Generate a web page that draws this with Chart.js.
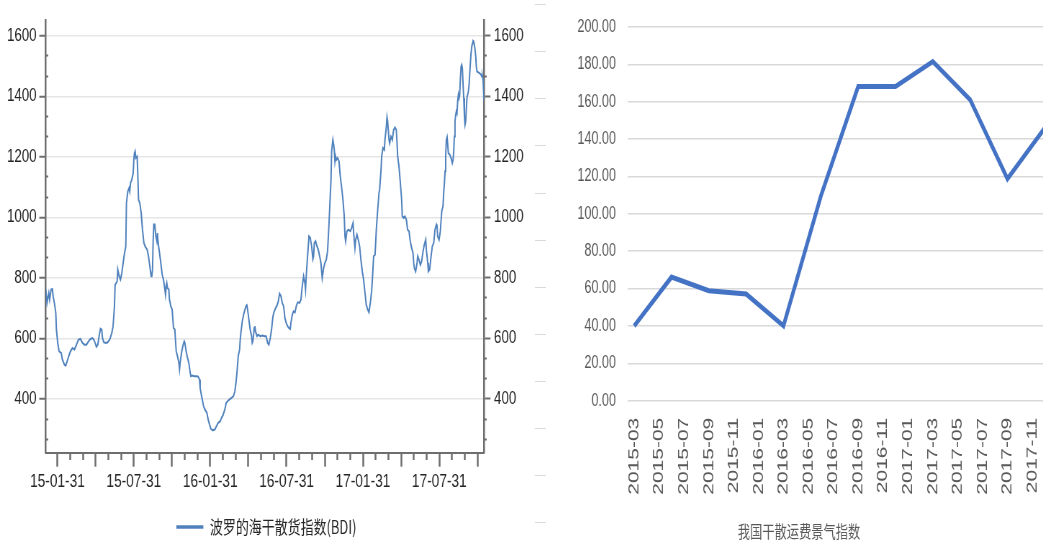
<!DOCTYPE html>
<html>
<head>
<meta charset="utf-8">
<title>BDI 与干散运费景气指数</title>
<script src="https://cdn.jsdelivr.net/npm/chart.js@4.4.1/dist/chart.umd.min.js"></script>
<style>
  html, body { margin: 0; padding: 0; background: #fff; width: 1043px; height: 543px; overflow: hidden; }
  #wrap { position: relative; width: 1043px; height: 543px; overflow: hidden; }
  .panel { position: absolute; top: 0; transform-origin: 0 0; }
  /* both charts are drawn wide and squeezed horizontally to 72% */
  .squeeze { transform: scaleX(0.72); }
  #bdiBox { left: 0; }
  #ruleBox { left: 535px; }
  #freightBox { left: 547px; }
</style>
</head>
<body>
<div id="wrap">
  <div class="panel squeeze" id="bdiBox"><canvas id="bdi" width="740" height="543"></canvas></div>
  <div class="panel" id="ruleBox"><canvas id="rule" width="11" height="543"></canvas></div>
  <div class="panel squeeze" id="freightBox"><canvas id="freight" width="700" height="543"></canvas></div>
</div>
<script>
// ---- Baltic Dry Index, daily close (x = months after 2015-01-31) ----
const bdiMonth = [
  -0.92,-0.82,-0.68,-0.61,-0.50,-0.40,-0.34,-0.24,-0.13,-0.08,0.02,0.13,0.29,0.39,0.55,0.65,0.76,0.89,1.02,1.18,
  1.33,1.49,1.65,1.81,1.96,2.12,2.28,2.44,2.59,2.75,2.85,2.96,3.06,3.17,3.27,3.38,3.48,3.54,3.64,3.80,
  3.95,4.11,4.27,4.37,4.48,4.53,4.69,4.74,4.85,4.95,5.06,5.16,5.27,5.37,5.42,5.53,5.63,5.68,5.74,5.84,
  5.95,6.00,6.05,6.10,6.16,6.26,6.31,6.37,6.47,6.58,6.68,6.79,6.89,7.05,7.15,7.26,7.36,7.41,7.47,7.52,7.57,
  7.65,7.73,7.81,7.86,7.91,8.02,8.12,8.23,8.33,8.44,8.49,8.54,8.59,8.65,8.75,8.80,8.91,9.01,9.07,9.12,
  9.22,9.27,9.33,9.43,9.54,9.59,9.64,9.75,9.85,9.96,10.01,10.11,10.22,10.32,10.43,10.48,10.58,10.74,10.90,11.06,
  11.16,11.21,11.32,11.48,11.58,11.74,11.84,11.95,12.05,12.21,12.37,12.52,12.63,12.79,12.89,13.00,13.15,13.26,13.36,13.52,
  13.68,13.83,13.94,14.04,14.10,14.20,14.31,14.36,14.41,14.52,14.62,14.73,14.83,14.88,14.94,15.04,15.14,15.25,15.30,15.35,
  15.41,15.46,15.51,15.56,15.67,15.77,15.93,16.09,16.30,
  16.40,16.51,16.61,16.72,16.82,16.93,17.03,17.14,17.24,17.35,17.45,17.56,17.66,17.77,17.87,17.97,18.08,18.18,18.29,18.34,
  18.45,18.55,18.66,18.76,18.87,19.02,19.13,19.23,19.34,19.44,19.49,19.55,19.65,19.76,19.86,19.97,20.07,20.12,20.18,20.28,
  20.39,20.49,20.60,20.70,20.80,20.91,21.01,21.12,21.22,21.33,21.43,21.49,21.54,21.64,21.70,21.75,21.80,21.85,21.91,22.01,
  22.12,22.22,22.33,22.43,22.53,22.59,22.64,22.74,22.85,23.01,23.11,23.22,23.27,23.37,23.43,23.53,23.63,23.74,23.84,23.95,
  24.05,24.16,24.26,24.37,24.47,24.58,24.68,24.74,24.84,24.95,
  25.00,25.05,25.16,25.26,25.31,25.42,25.47,25.57,25.68,25.73,25.84,25.89,25.94,25.99,26.05,26.10,26.20,26.31,26.41,26.52,
  26.62,26.68,26.73,26.83,26.94,27.04,27.09,27.20,27.30,27.41,27.51,27.62,27.72,27.83,27.93,27.99,28.04,28.14,28.25,28.30,
  28.40,28.51,28.61,28.72,28.82,28.93,28.98,29.09,29.14,29.24,29.35,29.45,29.56,29.66,29.77,29.82,29.87,29.98,30.08,30.19,
  30.29,30.34,30.40,30.45,30.50,30.55,30.61,30.66,30.71,30.82,30.92,31.02,31.08,31.13,31.18,31.23,31.29,31.34,31.39,31.44,
  31.50,31.55,31.60,31.65,31.71,31.76,31.81,31.86,31.92,31.97,32.02,32.07,32.13,32.18,32.23,32.28,32.34,32.39,32.44,32.49,
  32.55,32.60,32.65,32.70,32.75,32.81,32.86,32.91,32.96,33.07,33.17,33.28,33.33,33.38,33.44,33.51
];
const bdiLevel = [
  761,717,750,728,761,763,739,717,684,629,585,557,552,530,513,510,524,541,557,568,
  563,579,596,598,585,579,579,590,598,601,596,585,572,579,607,632,629,601,587,585,
  587,596,618,640,706,777,788,827,805,794,816,849,882,904,1047,1086,1097,1086,1113,1124,
  1146,1190,1212,1218,1196,1201,1146,1058,1047,1014,959,915,904,893,871,838,805,805,827,926,976,
  976,937,921,948,915,882,849,810,794,761,744,772,783,766,761,728,706,695,662,634,
  629,596,557,541,519,497,519,552,574,590,585,557,535,519,486,475,477,475,475,473,
  464,436,409,376,365,354,332,315,301,296,299,312,321,326,337,345,365,387,392,398,
  403,409,425,458,486,541,563,596,618,656,678,695,708,710,695,662,629,607,585,590,
  612,634,640,623,607,612,607,609,607,
  607,585,579,601,629,673,689,700,708,722,748,739,717,706,667,651,640,634,631,651,
  678,689,686,706,719,717,728,772,805,783,761,810,871,937,932,904,862,871,915,921,
  904,893,871,849,799,832,849,860,888,976,1069,1124,1218,1256,1240,1223,1185,1201,1190,1196,
  1185,1135,1097,1058,1003,937,921,954,959,954,965,981,948,899,926,943,926,904,860,821,
  794,750,711,695,686,717,755,794,871,876,
  915,959,1025,1080,1091,1157,1201,1229,1223,1256,1300,1331,1317,1289,1256,1245,1267,1256,1289,1297,
  1289,1245,1201,1168,1113,1058,1003,998,1003,992,959,954,920,898,882,849,832,821,849,871,
  860,843,854,887,909,926,893,849,821,827,871,904,915,959,976,970,937,926,954,1020,
  1036,1080,1113,1152,1201,1256,1265,1240,1212,1207,1196,1179,1190,1218,1267,1317,1339,1350,1344,1383,
  1405,1394,1405,1454,1498,1504,1493,1443,1394,1333,1306,1317,1366,1399,1405,1416,1438,1476,1509,1542,
  1564,1575,1583,1581,1570,1553,1531,1498,1482,1479,1476,1471,1465,1468,1454,1385
];
const bdiDateLabels = ['15-01-31', '15-07-31', '16-01-31', '16-07-31', '17-01-31', '17-07-31'];
const bdiLevelLabels = [400, 600, 800, 1000, 1200, 1400, 1600];

// ---- 我国干散运费景气指数, quarterly ----
const freightQuarters = ['2015-03','2015-06','2015-09','2015-12','2016-03','2016-06',
                         '2016-09','2016-12','2017-03','2017-06','2017-09','2017-12'];
const freightIndex = [40.0, 66.2, 58.9, 57.1, 40.1, 109.5, 168.2, 168.2, 181.6, 161.2, 118.8, 146.0];
const freightMonthLabels = ['2015-03','2015-05','2015-07','2015-09','2015-11','2016-01','2016-03',
                            '2016-05','2016-07','2016-09','2016-11','2017-01','2017-03','2017-05',
                            '2017-07','2017-09','2017-11'];
const freightLevelTicks = [0, 20, 40, 60, 80, 100, 120, 140, 160, 180, 200];

// ---- shared styling ----
const LATIN = '"Liberation Sans", Arial, sans-serif';
const CJK = '"Noto Sans CJK SC", "Noto Sans", sans-serif';
const AXIS = '#6e6e6e';
const INK = '#262626';
const GREY_TEXT = '#595959';

// month offset of a 'YYYY-MM' string from the first freight month
const monthsSince = (label, base) => {
  const [y, m] = label.split('-').map(Number);
  const [by, bm] = base.split('-').map(Number);
  return (y - by) * 12 + (m - bm);
};

// ================= left: BDI =================
const X_MIN = -0.92, X_MAX = 33.51;
const Y_MIN = 222, Y_MAX = 1652;
const Y_STEP = 200 / 3;
const isLevelLabel = v => bdiLevelLabels.some(l => Math.abs(l - v) < 1e-6);
const levelText = v => { const l = bdiLevelLabels.find(l => Math.abs(l - v) < 1e-6); return l === undefined ? '' : String(l); };

const yTicksCommon = { stepSize: Y_STEP, includeBounds: false, autoSkip: false, maxTicksLimit: 1000 };

new Chart(document.getElementById('bdi'), {
  type: 'line',
  data: {
    datasets: [{
      label: '波罗的海干散货指数(BDI)',
      data: bdiMonth.map((m, i) => ({ x: m, y: bdiLevel[i] })),
      xAxisID: 'x', yAxisID: 'y',
      borderColor: '#4f81bd',
      backgroundColor: '#4f81bd',
      borderWidth: 2,
      pointRadius: 0,
      tension: 0
    }]
  },
  options: {
    responsive: false, animation: false, events: [], devicePixelRatio: 1,
    layout: { autoPadding: false, padding: { top: 20, left: 0, right: 0, bottom: -3 } },
    plugins: {
      tooltip: { enabled: false },
      legend: {
        position: 'bottom',
        labels: {
          usePointStyle: true, pointStyle: 'line', pointStyleWidth: 37.5, padding: 10,
          color: INK, font: { family: CJK, size: 18 },
          generateLabels: ch => Chart.defaults.plugins.legend.labels.generateLabels(ch)
            .map(item => Object.assign(item, { lineWidth: 3.5 }))
        }
      }
    },
    scales: {
      x: {
        type: 'linear', position: 'bottom', min: X_MIN, max: X_MAX,
        afterFit: s => { s.height = 55.3; s.paddingLeft = 0; s.paddingRight = 0; },
        ticks: {
          stepSize: 1, includeBounds: false, autoSkip: false, maxRotation: 0, minRotation: 0,
          maxTicksLimit: 1000, padding: 3.5, color: INK, font: { family: LATIN, size: 19 },
          callback: v => (Number.isInteger(v) && v % 6 === 0 && bdiDateLabels[v / 6]) || ''
        },
        grid: {
          drawOnChartArea: false, tickLength: 14, tickWidth: 2.5,
          tickColor: c => (c.tick && c.tick.value % 3 === 0) ? AXIS : 'rgba(0,0,0,0)'
        },
        border: { color: AXIS, width: 2 }
      },
      xMinor: {
        axis: 'x', type: 'linear', position: { y: Y_MIN }, min: X_MIN, max: X_MAX,
        ticks: { display: false, stepSize: 1, includeBounds: false, autoSkip: false, maxTicksLimit: 1000 },
        grid: {
          drawOnChartArea: false, tickLength: 7, tickWidth: 2.5,
          tickColor: c => (c.tick && c.tick.value % 3 !== 0) ? AXIS : 'rgba(0,0,0,0)'
        },
        border: { display: false }
      },
      y: {
        type: 'linear', position: 'left', min: Y_MIN, max: Y_MAX,
        afterFit: s => { s.width = 63.5; },
        ticks: Object.assign({}, yTicksCommon, {
          padding: 3.6, color: INK, font: { family: LATIN, size: 18.5 }, callback: levelText
        }),
        grid: {
          color: c => (c.tick && isLevelLabel(c.tick.value)) ? '#e6e6e6' : 'rgba(0,0,0,0)',
          lineWidth: 1.5, tickLength: 9, tickWidth: 2,
          tickColor: c => (c.tick && isLevelLabel(c.tick.value)) ? AXIS : 'rgba(0,0,0,0)'
        },
        border: { color: AXIS, width: 2.5 }
      },
      yMinorL: {
        axis: 'y', type: 'linear', position: { x: X_MIN + 0.2 }, min: Y_MIN, max: Y_MAX,
        ticks: Object.assign({}, yTicksCommon, { display: false }),
        grid: {
          drawOnChartArea: false, tickLength: 3.6, tickWidth: 2,
          tickColor: c => (c.tick && !isLevelLabel(c.tick.value)) ? AXIS : 'rgba(0,0,0,0)'
        },
        border: { display: false }
      },
      y2: {
        type: 'linear', position: 'right', min: Y_MIN, max: Y_MAX,
        afterFit: s => { s.width = 67.8; },
        ticks: Object.assign({}, yTicksCommon, {
          padding: 4.9, color: INK, font: { family: LATIN, size: 18.5 }, callback: levelText
        }),
        grid: {
          drawOnChartArea: false, tickLength: 9, tickWidth: 2,
          tickColor: c => (c.tick && isLevelLabel(c.tick.value)) ? AXIS : 'rgba(0,0,0,0)'
        },
        border: { color: AXIS, width: 2.5 }
      },
      yMinorR: {
        axis: 'y', type: 'linear', position: { x: X_MAX + 0.2 }, min: Y_MIN, max: Y_MAX,
        ticks: Object.assign({}, yTicksCommon, { display: false }),
        grid: {
          drawOnChartArea: false, tickLength: 3.6, tickWidth: 2,
          tickColor: c => (c.tick && !isLevelLabel(c.tick.value)) ? AXIS : 'rgba(0,0,0,0)'
        },
        border: { display: false }
      }
    }
  }
});

// ================= thin rule between the two panels =================
const RULE_MIN = -21 / 47, RULE_MAX = RULE_MIN + 543 / 47;
new Chart(document.getElementById('rule'), {
  type: 'line',
  data: { datasets: [] },
  options: {
    responsive: false, animation: false, events: [], devicePixelRatio: 1,
    layout: { autoPadding: false, padding: 0 },
    plugins: { legend: { display: false }, tooltip: { enabled: false } },
    scales: {
      x: { type: 'linear', display: false, min: 0, max: 1 },
      y: {
        type: 'linear', min: RULE_MIN, max: RULE_MAX,
        ticks: { display: false, stepSize: 1, includeBounds: false },
        grid: { color: '#d9d9d9', lineWidth: 1, drawTicks: false },
        border: { display: false }
      }
    }
  }
});

// ================= right: freight climate index =================
const F_BASE = freightMonthLabels[0];
new Chart(document.getElementById('freight'), {
  type: 'line',
  data: {
    datasets: [{
      label: '我国干散运费景气指数',
      data: freightQuarters.map((q, i) => ({ x: monthsSince(q, F_BASE), y: freightIndex[i] })),
      borderColor: '#4472c4',
      borderWidth: 5,
      pointRadius: 0,
      tension: 0,
      clip: false
    }]
  },
  options: {
    responsive: false, animation: false, events: [], devicePixelRatio: 1,
    layout: { autoPadding: false, padding: { top: 19, left: 0, right: 0, bottom: 0 } },
    plugins: {
      tooltip: { enabled: false },
      legend: { display: false },
      title: {
        display: true, position: 'bottom', text: '我国干散运费景气指数',
        color: GREY_TEXT, font: { family: CJK, size: 17, weight: 'normal' },
        padding: { top: 21.1, bottom: 0.8 }
      }
    },
    scales: {
      x: {
        type: 'linear', min: -0.5, max: 33.5,
        afterFit: s => { s.height = 100; s.paddingLeft = 0; s.paddingRight = 0; },
        afterBuildTicks: s => { s.ticks = freightMonthLabels.map(l => ({ value: monthsSince(l, F_BASE) })); },
        ticks: {
          autoSkip: false, minRotation: 90, maxRotation: 90, padding: 17,
          color: GREY_TEXT, font: { family: LATIN, size: 21 },
          callback: (v, i) => freightMonthLabels[i]
        },
        grid: { display: false, drawTicks: false },
        border: { display: false }
      },
      y: {
        type: 'linear', min: 0, max: 200,
        afterFit: s => { s.width = 112.4; },
        afterBuildTicks: s => { s.ticks = freightLevelTicks.map(v => ({ value: v })); },
        ticks: {
          padding: 16.7, color: GREY_TEXT, font: { family: LATIN, size: 17.5 },
          callback: v => v.toFixed(2)
        },
        grid: { color: '#d9d9d9', lineWidth: 1.6, drawTicks: false },
        border: { display: false }
      }
    }
  }
});
</script>
</body>
</html>
